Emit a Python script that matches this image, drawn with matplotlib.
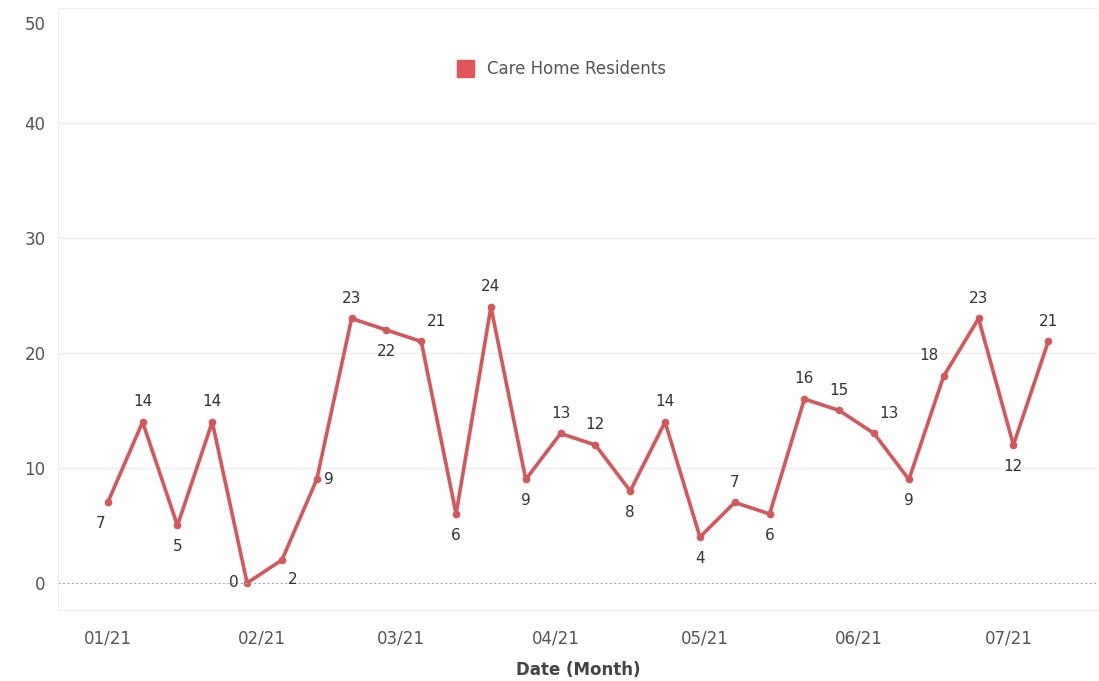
import datetime as dt
import matplotlib
matplotlib.use('Agg')
import matplotlib.pyplot as plt
import matplotlib.dates as mdates
from matplotlib.patches import Patch
from matplotlib.transforms import ScaledTranslation

# weekly counts
start = dt.date(2021, 1, 1)
values = [7, 14, 5, 14, 0, 2, 9, 23, 22, 21, 6, 24, 9, 13, 12, 8, 14,
          4, 7, 6, 16, 15, 13, 9, 18, 23, 12, 21]
dates = [start + dt.timedelta(weeks=i) for i in range(len(values))]

# where each value label sits relative to its point
label_side = ['bl', 'a', 'b', 'a', 'l', 'br', 'r', 'a', 'b', 'ar', 'b', 'a',
              'b', 'a', 'a', 'b', 'a', 'b', 'a', 'b', 'a', 'a', 'ar', 'b',
              'al', 'a', 'b', 'a']
offsets = {
    'a': (0, 9, 'center', 'bottom'),
    'b': (0, -10, 'center', 'top'),
    'bl': (-5, -10, 'center', 'top'),
    'br': (4, -9, 'left', 'top'),
    'ar': (4, 9, 'left', 'bottom'),
    'al': (-4, 9, 'right', 'bottom'),
    'l': (-6, 0, 'right', 'center'),
    'r': (5, 0, 'left', 'center'),
}

line_color = '#d4575c'
text_color = '#555555'

fig = plt.figure(figsize=(10.99, 6.81), dpi=100)
ax = fig.add_axes([58 / 1099, 71 / 681, 1040 / 1099, 602 / 681])

ax.plot(dates, values, color=line_color, lw=2.6, marker='o', ms=4.5,
        solid_joinstyle='round')

for d, v, side in zip(dates, values, label_side):
    dx, dy, ha, va = offsets[side]
    ax.annotate(str(v), (d, v), xytext=(dx, dy), textcoords='offset points',
                ha=ha, va=va, fontsize=11, color='#333333')

ax.set_ylim(-2.35, 50)
ax.set_xlim(dt.date(2020, 12, 22), dt.date(2021, 7, 19))
ax.set_yticks([0, 10, 20, 30, 40, 50])
ax.xaxis.set_major_locator(mdates.MonthLocator())
ax.xaxis.set_major_formatter(mdates.DateFormatter('%m/%y'))

ax.grid(axis='y', color='#eeeeee', lw=1)
for g in ax.yaxis.get_gridlines()[:1]:
    g.set_visible(False)
ax.axhline(0, color='#aaaaaa', lw=0.8, ls=(0, (2, 2)))

for s in ['top', 'right']:
    ax.spines[s].set_visible(False)
for s in ['left', 'bottom']:
    ax.spines[s].set_color('#eeeeee')

ax.tick_params(axis='both', length=0, labelsize=12, colors=text_color)
ax.tick_params(axis='y', pad=9)
ax.tick_params(axis='x', pad=14)
top_label = ax.yaxis.get_major_ticks()[-1].label1
top_label.set_va('top')
top_label.set_transform(top_label.get_transform() +
                        ScaledTranslation(0, -6 / 72, fig.dpi_scale_trans))

ax.set_xlabel('Date (Month)', fontsize=12, fontweight='bold', color='#444444',
              labelpad=10)

ax.legend(handles=[Patch(color='#e15759', label='Care Home Residents')],
          loc='center', bbox_to_anchor=(0.484, 0.899), frameon=False,
          fontsize=12, handlelength=1.0, handleheight=1.2,
          labelcolor=text_color)

fig.savefig('out.png', dpi=100)
